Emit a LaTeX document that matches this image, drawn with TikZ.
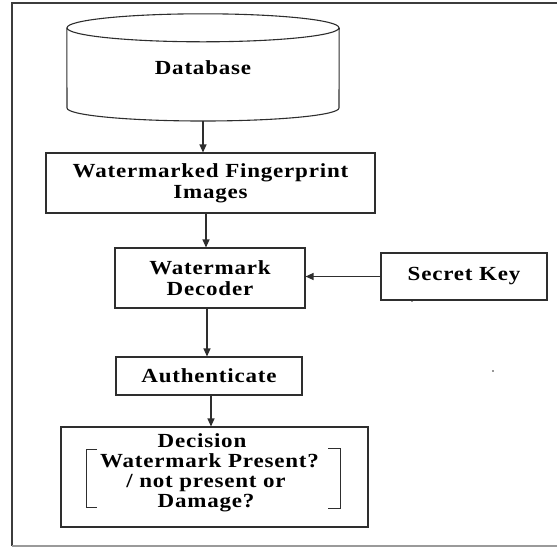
\documentclass[tikz,border=0pt]{standalone}
\usepackage{fontspec}
\setmainfont{Liberation Serif}[FakeStretch=1.15,LetterSpace=4]
\usetikzlibrary{arrows.meta,calc}
\definecolor{ink}{HTML}{2E2E2E}
\definecolor{frameink}{HTML}{3C3C3C}
\definecolor{framelow}{HTML}{9A9A9A}
\begin{document}
\begin{tikzpicture}[x=1pt,y=-1pt,
  lbl/.style={font=\fontsize{20}{21}\selectfont\bfseries, text=black, inner sep=0pt, align=center},
  stage/.style={lbl, draw=ink, line width=1.1pt, minimum width=#1},
  flow/.style={draw=ink, line width=1.2pt, -{Triangle[length=8pt,width=7pt]}},
  brk/.style={draw=ink, line width=0.9pt}]
  \useasboundingbox (0,0) rectangle (557,547);

  % outer frame (open on the right)
  \draw[frameink, line width=1.8pt] (12,546) -- (12,3) -- (557,3);
  \draw[framelow, line width=1.4pt] (12,546) -- (557,546);

  % database cylinder
  \node[lbl, minimum width=272pt, minimum height=107pt] (db) at (203,67.5) {Database};
  \draw[ink, line width=1.1pt] ($(db.north)+(0,14)$) ellipse [x radius=136pt, y radius=14pt];
  \draw[ink, line width=1.1pt] ($(db.north west)+(0,14)$) -- (67,108)
    arc [start angle=180, end angle=360, x radius=136pt, y radius=13pt]
    -- ($(db.north east)+(0,14)$);

  % processing stages
  \node[stage=329pt, minimum height=60pt] (imgs) at (210.5,183) {Watermarked Fingerprint\\Images};
  \node[stage=190pt, minimum height=60pt] (dec) at (210,278) {Watermark\\Decoder};
  \node[stage=166pt, minimum height=47pt] (key) at (464,276.5) {Secret Key};
  \node[stage=186pt, minimum height=38pt] (auth) at (209,376) {Authenticate};
  \node[draw=ink, line width=1.1pt, minimum width=307pt, minimum height=100pt, inner sep=0pt] (dcs) at (214.5,477) {};
  \node[lbl, font=\fontsize{20}{20}\selectfont\bfseries] (dtxt) at (206,472.5)
    {Decision\hspace*{8pt}\\\hspace*{7pt}Watermark Present?\\/ not present or\hspace*{18pt}\\Damage?};

  % brackets around the alternatives
  \draw[brk] (97,449) -- (86,449) -- (86,507) -- (97,507);
  \draw[brk] (328,448) -- (340,448) -- (340,508) -- (328,508);

  % connector start points
  \coordinate (s2) at ($(imgs.south)+(-4.5,0)$);
  \coordinate (s3) at ($(dec.south)+(-3,0)$);
  \coordinate (s4) at ($(auth.south)+(2,0)$);

  % connectors
  \draw[flow] (db.south) -- (db.south |- imgs.north);
  \draw[flow] (s2) -- (s2 |- dec.north);
  \draw[flow] (key.west) -- (key.west -| dec.east);
  \draw[flow] (s3) -- (s3 |- auth.north);
  \draw[flow] (s4) -- (s4 |- dcs.north);

  % stray specks
  \fill[ink] (412,301) circle [radius=0.8pt];
  \fill[ink] (493,371) circle [radius=0.8pt];
\end{tikzpicture}
\end{document}
